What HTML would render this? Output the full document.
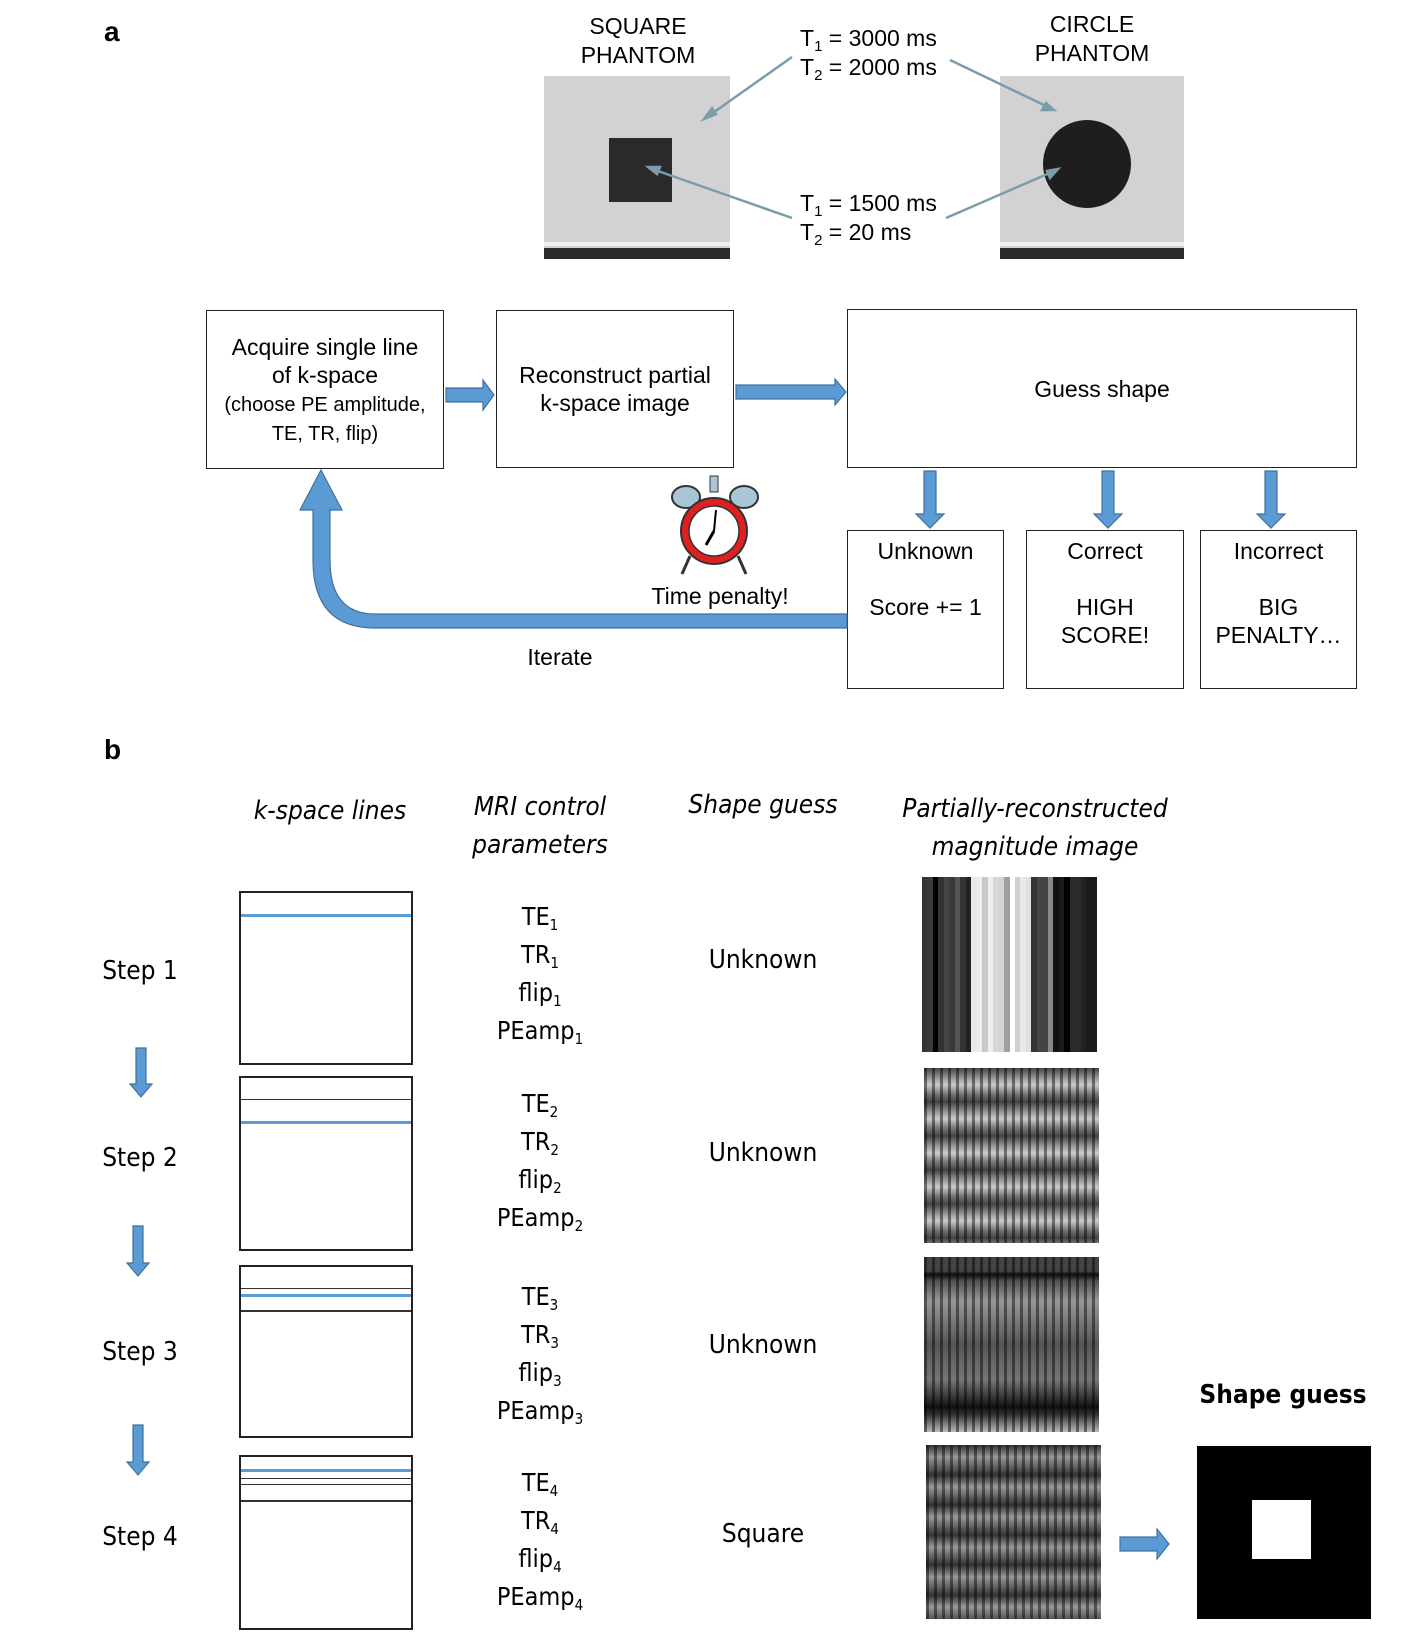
<!DOCTYPE html>
<html><head><meta charset="utf-8"><style>
body{margin:0;width:1427px;height:1643px;background:#fff;position:relative;overflow:hidden;font-family:"Liberation Sans",sans-serif;color:#000}
.a{position:absolute}
.t{position:absolute;font-size:23px;text-align:center;line-height:29px;white-space:nowrap}
.box{position:absolute;border:1.5px solid #222;box-sizing:border-box;display:flex;align-items:center;justify-content:center;text-align:center;font-size:23px;line-height:28px}
.c{position:absolute;font-family:"DejaVu Sans Condensed","Liberation Sans Narrow","Liberation Sans",sans-serif;font-size:26px;text-align:center;white-space:nowrap}
.i{font-style:italic}
.ks{position:absolute;left:239px;width:174px;border:2px solid #222;box-sizing:border-box}
.ln{position:absolute;left:0;right:0;height:0;border-top:1.5px solid #333}
.bl{position:absolute;left:0;right:0;height:0;border-top:3px solid #5b9bd5}
.p{position:absolute;left:490px;width:100px;text-align:center;font-family:"DejaVu Sans Condensed","Liberation Sans",sans-serif;font-size:25px;line-height:38px}
sub{font-size:15px;vertical-align:-5px;line-height:0}
.img{position:absolute;width:175px;height:175px;display:flex}
.img div{flex:1}
</style></head><body>

<div class="a" style="left:104px;top:16px;font-size:28px;font-weight:bold">a</div>
<div class="a" style="left:104px;top:734px;font-size:28px;font-weight:bold">b</div>

<div class="t" style="left:568px;top:12px;width:140px">SQUARE<br>PHANTOM</div>
<div class="t" style="left:1022px;top:10px;width:140px">CIRCLE<br>PHANTOM</div>
<div class="a" style="left:544px;top:76px;width:186px;height:183px;background:#d2d2d2"></div>
<div class="a" style="left:544px;top:248px;width:186px;height:11px;background:#2a2a2a"></div>
<div class="a" style="left:544px;top:242px;width:186px;height:4px;background:#f0f0f0"></div>
<div class="a" style="left:609px;top:138px;width:63px;height:64px;background:#2a2a2a"></div>
<div class="a" style="left:1000px;top:76px;width:184px;height:183px;background:#d2d2d2"></div>
<div class="a" style="left:1000px;top:248px;width:184px;height:11px;background:#2a2a2a"></div>
<div class="a" style="left:1000px;top:242px;width:184px;height:4px;background:#f0f0f0"></div>
<div class="a" style="left:1043px;top:120px;width:88px;height:88px;border-radius:50%;background:#1e1e1e"></div>

<div class="t" style="left:800px;top:24px;text-align:left">T<sub>1</sub> = 3000 ms<br>T<sub>2</sub> = 2000 ms</div>
<div class="t" style="left:800px;top:189px;text-align:left">T<sub>1</sub> = 1500 ms<br>T<sub>2</sub> = 20 ms</div>

<div class="box" style="left:206px;top:310px;width:238px;height:159px"><div>Acquire single line<br>of k-space<br><span style="font-size:20px;line-height:26px">(choose PE amplitude,<br>TE, TR, flip)</span></div></div>
<div class="box" style="left:496px;top:310px;width:238px;height:158px">Reconstruct partial<br>k-space image</div>
<div class="box" style="left:847px;top:309px;width:510px;height:159px">Guess shape</div>
<div class="box" style="left:847px;top:530px;width:157px;height:159px;align-items:flex-start;padding-top:6px">Unknown<br><br>Score += 1</div>
<div class="box" style="left:1026px;top:530px;width:158px;height:159px;align-items:flex-start;padding-top:6px">Correct<br><br>HIGH<br>SCORE!</div>
<div class="box" style="left:1200px;top:530px;width:157px;height:159px;align-items:flex-start;padding-top:6px">Incorrect<br><br>BIG<br>PENALTY…</div>
<div class="t" style="left:640px;top:582px;width:160px">Time penalty!</div>
<div class="t" style="left:500px;top:643px;width:120px">Iterate</div>

<svg class="a" style="left:0;top:0" width="1427" height="1643">
<g stroke="#7a9cab" stroke-width="2.5" fill="#7a9cab">
<line x1="792" y1="57" x2="710" y2="115"/><polygon points="704,119 712,108 716,114"/>
<line x1="950" y1="60" x2="1048" y2="107"/><polygon points="1054,110 1042,110 1046,103"/>
<line x1="792" y1="218" x2="655" y2="170"/><polygon points="648,167 660,167 657,174"/>
<line x1="946" y1="218" x2="1052" y2="172"/><polygon points="1058,169 1050,178 1047,171"/>
</g>
<g fill="#5b9bd5" stroke="#41719c" stroke-width="1.2">
<polygon points="446,388 483,388 483,380 494,395 483,410 483,402 446,402"/>
<polygon points="736,385 835,385 835,379 846,392 835,405 835,399 736,399"/>
<polygon points="924,471 936,471 936,514 944,514 930,528 916,514 924,514"/>
<polygon points="1102,471 1114,471 1114,514 1122,514 1108,528 1094,514 1102,514"/>
<polygon points="1265,471 1277,471 1277,514 1285,514 1271,528 1257,514 1265,514"/>
<path d="M847,614 L375,614 Q330,614 330,560 L330,510 L342,510 L321,470 L300,510 L313,510 L313,560 Q313,628 375,628 L847,628 Z"/>
<polygon points="136,1048 146,1048 146,1084 152,1084 141,1097 130,1084 136,1084"/>
<polygon points="133,1226 143,1226 143,1263 149,1263 138,1276 127,1263 133,1263"/>
<polygon points="133,1425 143,1425 143,1462 149,1462 138,1475 127,1462 133,1462"/>
<polygon points="1120,1537 1157,1537 1157,1529 1169,1544 1157,1559 1157,1551 1120,1551"/>
</g>
<g>
<ellipse cx="686" cy="497" rx="14" ry="11" fill="#a9c6d6" stroke="#333" stroke-width="2"/>
<ellipse cx="744" cy="497" rx="14" ry="11" fill="#a9c6d6" stroke="#333" stroke-width="2"/>
<line x1="690" y1="556" x2="682" y2="574" stroke="#333" stroke-width="3"/>
<line x1="738" y1="556" x2="746" y2="574" stroke="#333" stroke-width="3"/>
<circle cx="714" cy="531" r="33" fill="#e02020" stroke="#333" stroke-width="2"/>
<circle cx="714" cy="531" r="25" fill="#fff" stroke="#333" stroke-width="1.5"/>
<line x1="714" y1="531" x2="716" y2="510" stroke="#000" stroke-width="2"/>
<line x1="714" y1="531" x2="706" y2="545" stroke="#000" stroke-width="3"/>
<rect x="710" y="476" width="8" height="16" fill="#a9c6d6" stroke="#333"/>
</g>
</svg>

<div class="c i" style="left:230px;top:796px;width:200px">k-space lines</div>
<div class="c i" style="left:440px;top:788px;width:200px;line-height:38px">MRI control<br>parameters</div>
<div class="c i" style="left:663px;top:790px;width:200px">Shape guess</div>
<div class="c i" style="left:870px;top:790px;width:330px;line-height:38px">Partially-reconstructed<br>magnitude image</div>

<div class="c" style="left:80px;top:956px;width:120px">Step 1</div>
<div class="c" style="left:80px;top:1143px;width:120px">Step 2</div>
<div class="c" style="left:80px;top:1337px;width:120px">Step 3</div>
<div class="c" style="left:80px;top:1522px;width:120px">Step 4</div>

<div class="ks" style="top:891px;height:174px"><div class="bl" style="top:21px"></div></div>
<div class="ks" style="top:1076px;height:175px"><div class="ln" style="top:21px"></div><div class="bl" style="top:43px"></div></div>
<div class="ks" style="top:1265px;height:173px"><div class="ln" style="top:21px"></div><div class="bl" style="top:27px"></div><div class="ln" style="top:43px;border-top-width:2px"></div></div>
<div class="ks" style="top:1455px;height:175px"><div class="bl" style="top:12px"></div><div class="ln" style="top:21px"></div><div class="ln" style="top:27px"></div><div class="ln" style="top:43px;border-top-width:2px"></div></div>

<div class="p" style="top:898px">TE<sub>1</sub><br>TR<sub>1</sub><br>flip<sub>1</sub><br>PEamp<sub>1</sub></div>
<div class="p" style="top:1085px">TE<sub>2</sub><br>TR<sub>2</sub><br>flip<sub>2</sub><br>PEamp<sub>2</sub></div>
<div class="p" style="top:1278px">TE<sub>3</sub><br>TR<sub>3</sub><br>flip<sub>3</sub><br>PEamp<sub>3</sub></div>
<div class="p" style="top:1464px">TE<sub>4</sub><br>TR<sub>4</sub><br>flip<sub>4</sub><br>PEamp<sub>4</sub></div>

<div class="c" style="left:663px;top:945px;width:200px">Unknown</div>
<div class="c" style="left:663px;top:1138px;width:200px">Unknown</div>
<div class="c" style="left:663px;top:1330px;width:200px">Unknown</div>
<div class="c" style="left:663px;top:1519px;width:200px">Square</div>

<div class="img" style="left:922px;top:877px">
<div style="background:#333"></div><div style="background:#3a3a3a"></div><div style="background:#000"></div><div style="background:#333"></div><div style="background:#444"></div><div style="background:#3a3a3a"></div><div style="background:#555"></div><div style="background:#333"></div><div style="background:#222"></div><div style="background:#e8e8e8"></div><div style="background:#eee"></div><div style="background:#c8c8c8"></div><div style="background:#eee"></div><div style="background:#d8d8d8"></div><div style="background:#d4d4d4"></div><div style="background:#a0a0a0"></div><div style="background:#fff"></div><div style="background:#d0d0d0"></div><div style="background:#e8e8e8"></div><div style="background:#e0e0e0"></div><div style="background:#333"></div><div style="background:#444"></div><div style="background:#444"></div><div style="background:#888"></div><div style="background:#111"></div><div style="background:#1a1a1a"></div><div style="background:#000"></div><div style="background:#2a2a2a"></div><div style="background:#2a2a2a"></div><div style="background:#222"></div><div style="background:#1a1a1a"></div><div style="background:#1a1a1a"></div>
</div>
<div class="a" style="left:924px;top:1068px;width:175px;height:175px;background:repeating-linear-gradient(90deg,rgba(0,0,0,.45) 0 3px,rgba(0,0,0,0) 3px 8px),repeating-linear-gradient(180deg,#444 0px,#888 8px,#ccc 17px,#777 26px,#444 34px),linear-gradient(90deg,#555 0 25%,#bbb 30% 70%,#555 75%)"></div>
<div class="a" style="left:924px;top:1257px;width:175px;height:175px;background:repeating-linear-gradient(90deg,rgba(0,0,0,.45) 0 3px,rgba(0,0,0,0) 3px 8px),linear-gradient(180deg,#444 0 8%,#111 10%,#555 14%,#999 25%,#555 50%,#777 70%,#111 86%,#333 90%,#bbb 100%)"></div>
<div class="a" style="left:926px;top:1445px;width:175px;height:174px;background:repeating-linear-gradient(90deg,rgba(0,0,0,.45) 0 3px,rgba(0,0,0,0) 3px 8px),repeating-linear-gradient(180deg,#333 0px,#999 12px,#555 24px,#333 30px),linear-gradient(90deg,#444,#999 40%,#444)"></div>

<div class="c" style="left:1183px;top:1380px;width:200px;font-weight:bold">Shape guess</div>
<div class="a" style="left:1197px;top:1446px;width:174px;height:173px;background:#000"></div>
<div class="a" style="left:1252px;top:1500px;width:59px;height:59px;background:#fff"></div>
</body></html>
